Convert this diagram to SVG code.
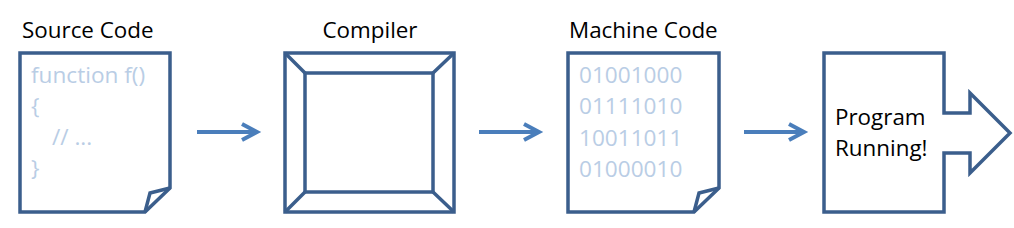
<svg xmlns="http://www.w3.org/2000/svg" width="1014" height="228" viewBox="0 0 1014 228">
<defs>
<style>
.shape{fill:#fff;stroke:#3B5E8C;stroke-width:3.5;stroke-linejoin:miter}
.line{fill:none;stroke:#3B5E8C;stroke-width:3.5;stroke-linejoin:miter}
.title{font-family:"Open Sans","Liberation Sans",sans-serif;font-size:22.4px;fill:#000}
.code{font-family:"Open Sans","Liberation Sans",sans-serif;font-size:22.6px;fill:#B9CDE5}
.conn{fill:none;stroke:#4A7EBB;stroke-width:4}
</style>
</defs>
<rect width="1014" height="228" fill="#fff"/>
<g id="source">
<text class="title" x="22" y="38">Source Code</text>
<path class="shape" d="M20,53 H170 V188 L145,212 H20 Z"/>
<path class="line" d="M170,188 L150,193 L145,212"/>
<text class="code" x="31" y="83">function f()</text>
<text class="code" x="31" y="114">{</text>
<text class="code" x="52" y="145">// ...</text>
<text class="code" x="31" y="176">}</text>
</g>
<g id="compiler">
<text class="title" x="370" y="38" text-anchor="middle">Compiler</text>
<rect class="shape" x="285" y="53" width="169" height="159"/>
<rect class="line" x="305" y="73" width="128" height="119"/>
<path class="line" d="M285,53 L305,73 M454,53 L433,73 M285,212 L305,192 M454,212 L433,192"/>
</g>
<g id="machine">
<text class="title" x="569" y="38">Machine Code</text>
<path class="shape" d="M568,53 H719 V188 L694,212 H568 Z"/>
<path class="line" d="M719,188 L699,193 L694,212"/>
<text class="code" x="579" y="83">01001000</text>
<text class="code" x="579" y="114">01111010</text>
<text class="code" x="579" y="146">10011011</text>
<text class="code" x="579" y="177">01000010</text>
</g>
<g id="running">
<path class="shape" d="M824,53 H944 V113 H970 V93 L1010,133 L970,173 V153 H944 V212 H824 Z"/>
<text class="title" x="835" y="125">Program</text>
<text class="title" x="835" y="156">Running!</text>
</g>
<g id="connectors">
<path class="conn" d="M197,132 H256 M242,124 L257,132 L242,140"/>
<path class="conn" d="M479,132 H538 M524,124 L539,132 L524,140"/>
<path class="conn" d="M744,132 H803 M789,124 L804,132 L789,140"/>
</g>
</svg>
